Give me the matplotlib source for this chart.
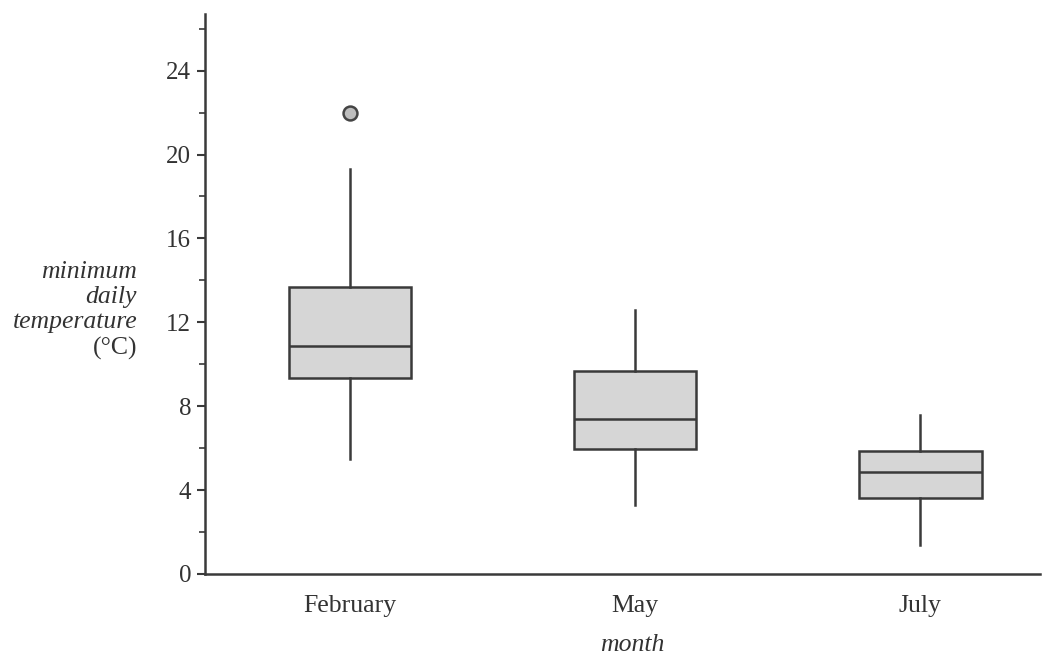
import matplotlib
matplotlib.use("Agg")
import matplotlib.pyplot as plt
from matplotlib.ticker import MultipleLocator

months = ["February", "May", "July"]
whisker_low = [5.5, 3.3, 1.4]
q1 = [9.35, 5.95, 3.6]
median = [10.85, 7.4, 4.85]
q3 = [13.7, 9.7, 5.85]
whisker_high = [19.3, 12.6, 7.6]
outliers = [[22.0], [], []]

plt.rcParams['font.family'] = ['Liberation Serif', 'DejaVu Serif']

W, H = 1048, 657
fig = plt.figure(figsize=(W / 100, H / 100), dpi=100)
ax = fig.add_axes([205 / W, 1 - 574 / H, (1040 - 205) / W, (574 - 14) / H])

stats = []
for i, m in enumerate(months):
    stats.append(dict(label=m, whislo=whisker_low[i], q1=q1[i], med=median[i],
                      q3=q3[i], whishi=whisker_high[i], fliers=outliers[i]))

dark = "#3a3a3a"
ax.bxp(stats, positions=range(len(months)), widths=0.43, patch_artist=True,
       showcaps=False,
       boxprops=dict(facecolor="#d6d6d6", edgecolor=dark, linewidth=1.8),
       medianprops=dict(color=dark, linewidth=1.8),
       whiskerprops=dict(color=dark, linewidth=1.8),
       flierprops=dict(marker='o', markersize=10, markerfacecolor="#bdbdbd",
                       markeredgecolor="#444444", markeredgewidth=1.8))

ax.set_xlim(-0.509, 2.42)
ax.set_ylim(0, 26.7)
ax.yaxis.set_major_locator(MultipleLocator(4))
ax.yaxis.set_minor_locator(MultipleLocator(2))
ax.spines['top'].set_visible(False)
ax.spines['right'].set_visible(False)
for s in ('left', 'bottom'):
    ax.spines[s].set_linewidth(1.8)
    ax.spines[s].set_color(dark)
ax.tick_params(axis='y', which='major', length=6, width=1.5, color=dark,
               labelsize=18, labelcolor="#333333", pad=4)
ax.tick_params(axis='y', which='minor', length=4, width=1.2, color=dark)
ax.tick_params(axis='x', length=0, labelsize=18.5, labelcolor="#333333", pad=15)
ax.set_xticks(range(len(months)))
ax.set_xticklabels(months)

fig.text(632 / W, 1 - 645 / H, "month", ha='center', va='center',
         fontstyle='italic', fontsize=18.5, color="#333333")

ylabel_lines = [("minimum", 'italic', 272), ("daily", 'italic', 297),
                ("temperature", 'italic', 322), ("(°C)", 'normal', 348)]
for txt, style, ypx in ylabel_lines:
    fig.text(137 / W, 1 - ypx / H, txt, ha='right', va='center', fontsize=18.5,
             color="#333333", fontstyle=style)

fig.savefig("out.png", dpi=100)
